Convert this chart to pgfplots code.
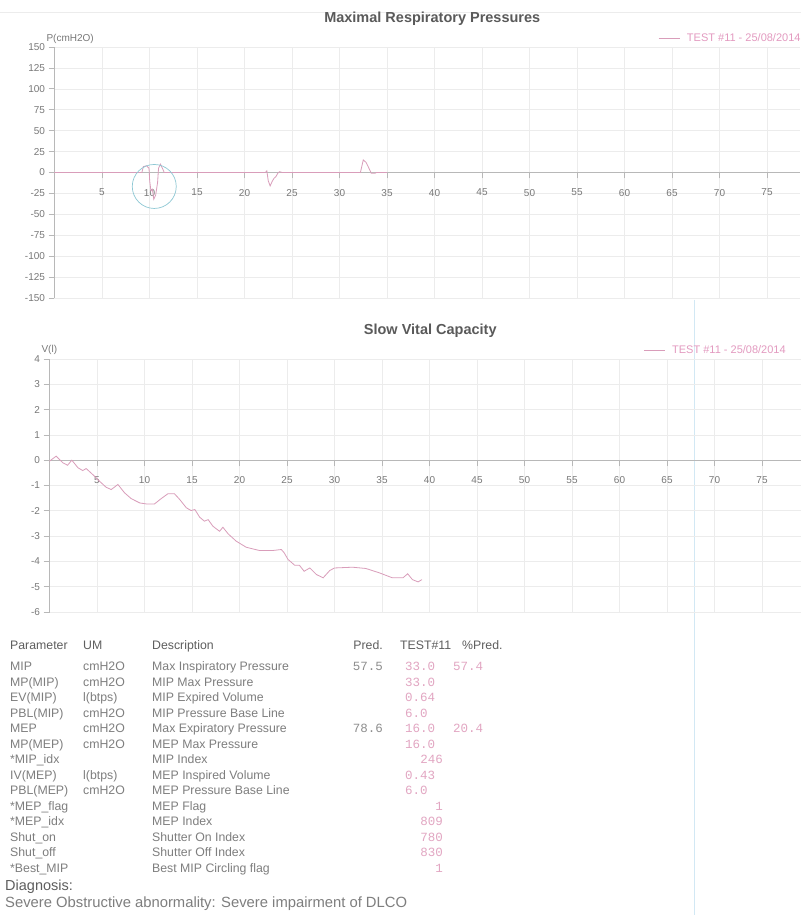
\documentclass[border=0pt]{standalone}
\usepackage{pgfplots}
\pgfplotsset{compat=1.18}
\usepackage{fontspec}
\setmainfont{Liberation Sans}
\newfontfamily\monofont{Liberation Mono}
\definecolor{curve}{HTML}{D99DBA}
\definecolor{legtxt}{HTML}{E39AC0}
\definecolor{gridc}{HTML}{ECECEC}
\definecolor{axc}{HTML}{B8B8B8}
\definecolor{tickc}{HTML}{787878}
\definecolor{titc}{HTML}{5A5A5A}
\definecolor{hdr}{HTML}{5E5E5E}
\definecolor{bodyc}{HTML}{7E7E7E}
\definecolor{numc}{HTML}{E2A6C2}
\definecolor{predc}{HTML}{8E8E8E}
\definecolor{circ}{HTML}{8EC8D4}
\definecolor{fold}{HTML}{D2E8F4}
\newcommand\tabf{\fontsize{12.3}{14}\selectfont}
\newcommand\numf{\monofont\fontsize{12.5}{14}\selectfont}
\pgfplotsset{
  chartbase/.style={
    scale only axis,
    axis x line=middle, axis y line=left,
    axis line style={-, draw=axc, line width=0.7pt},
    tick align=outside,
    major tick length=6pt,
    every tick/.style={draw=axc, line width=0.7pt},
    grid=major,
    major grid style={draw=gridc, line width=0.6pt},
    tick label style={font=\fontsize{10}{12}\selectfont, text=tickc},
    /pgf/number format/assume math mode=true,
    xtick={5,10,...,75},
    xticklabel style={yshift=-7pt},
    clip=false,
    title style={at={(axis description cs:0.5,1)}, anchor=base, yshift=18.5pt, xshift=5pt,
      font=\fontsize{14.5}{16}\selectfont\bfseries, text=titc},
    every axis y label/.style={at={(axis description cs:0,1)}, anchor=base west,
      font=\fontsize{10}{12}\selectfont, text=tickc},
    legend style={draw=none, fill=none, anchor=west, font=\fontsize{11}{13}\selectfont,
      text=legtxt, inner sep=0pt, nodes={inner sep=0pt},
      /tikz/every odd column/.append style={column sep=7pt}},
    legend image code/.code={\draw[#1, line width=0.8pt] (0pt,0pt) -- (21pt,0pt);},
  }
}
\begin{document}
\begin{tikzpicture}
\useasboundingbox (0pt,0pt) rectangle (801pt,915pt);
\fill[white] (0pt,0pt) rectangle (801pt,915pt);
\begin{scope}[x=1pt, y=-1pt, shift={(0pt,915pt)}]
\draw[gridc, line width=0.6pt] (0,12) -- (801,12);
\draw[fold, line width=1pt] (694,300) -- (694,915);
\end{scope}

\begin{axis}[chartbase, at={(54.5pt,617pt)}, anchor=south west, width=745.5pt, height=251pt,
  xmin=0, xmax=78.47, ymin=-150, ymax=150, ytick={-150,-125,...,150},
  title={Maximal Respiratory Pressures}, ylabel={P(cmH2O)}, ylabel style={xshift=-11.5pt, yshift=5.5pt},
  legend style={at={(axis description cs:0.8095,1)}, yshift=9pt}]
\addplot[curve, line width=0.8pt] coordinates {
(0,0) (9.2,0) (9.35,7) (9.7,8) (9.95,5) (10.02,-10) (10.15,-22) (10.3,-20) (10.45,-32) (10.65,-27)
(10.85,-12) (10.95,5) (11.15,10) (11.4,4) (11.55,0) (22.2,0) (22.35,2) (22.5,-10) (22.7,-16)
(22.9,-11) (23.1,-7) (23.3,-5) (23.5,-1) (23.7,1) (23.95,0) (32.2,0) (32.5,15) (32.8,12)
(33.1,5) (33.35,-1) (33.7,-1) (33.9,0) (35,0)};
\addlegendentry{TEST \#11 - 25/08/2014}
\addplot[forget plot, only marks, mark=o, mark size=22pt, mark options={draw=circ, line width=0.7pt}]
  coordinates {(10.5,-16.7)};
\end{axis}

\begin{axis}[chartbase, at={(49.5pt,303pt)}, anchor=south west, width=751.5pt, height=253pt,
  xmin=0, xmax=79.1, ymin=-6, ymax=4, ytick={-6,-5,...,4},
  title={Slow Vital Capacity}, ylabel={V(l)}, ylabel style={xshift=-11.5pt, yshift=6pt},
  legend style={at={(axis description cs:0.79,1)}, yshift=8.3pt}]
\addplot[curve, line width=0.8pt] coordinates {
(0,-0.04) (0.7,0.16) (1.4,-0.1) (1.9,-0.2) (2.35,0) (3.0,-0.3) (3.5,-0.41) (3.86,-0.33)
(4.56,-0.57) (5.26,-0.83) (5.96,-1.07) (6.5,-1.16) (7.2,-0.96) (7.9,-1.29) (8.6,-1.52)
(9.5,-1.69) (10.2,-1.73) (11.05,-1.73) (11.75,-1.52) (12.45,-1.33) (13.16,-1.33) (13.7,-1.55)
(14.4,-1.88) (14.9,-1.99) (15.3,-1.95) (15.8,-2.25) (16.3,-2.41) (16.7,-2.35) (17.2,-2.61)
(17.9,-2.81) (18.25,-2.65) (18.8,-2.91) (19.65,-3.2) (20.7,-3.44) (22.1,-3.57) (23.5,-3.57)
(24.4,-3.53) (24.7,-3.66) (25.1,-3.92) (25.8,-4.15) (26.3,-4.15) (26.8,-4.39) (27.4,-4.26)
(28.1,-4.52) (28.8,-4.65) (29.5,-4.36) (30.0,-4.26) (31.9,-4.23) (33.3,-4.28) (34.7,-4.45)
(36.1,-4.65) (37.2,-4.65) (37.7,-4.49) (38.2,-4.72) (38.8,-4.81) (39.2,-4.72)};
\addlegendentry{TEST \#11 - 25/08/2014}
\end{axis}

\begin{scope}[x=1pt, y=-1pt, shift={(0pt,915pt)},
  tb/.style={anchor=base west, inner sep=0pt, text=bodyc, font=\tabf},
  th/.style={anchor=base west, inner sep=0pt, text=hdr, font=\tabf},
  dl/.style={anchor=base west, inner sep=0pt, text=numc, font=\numf},
  ir/.style={anchor=base east, inner sep=0pt, text=numc, font=\numf},
  pr/.style={anchor=base east, inner sep=0pt, text=predc, font=\numf},
  pc/.style={anchor=base west, inner sep=0pt, text=numc, font=\numf}]
\newcommand\rowtxt[4]{\node[tb] at (10,#1) {#2};\node[tb] at (83,#1) {#3};\node[tb] at (152,#1) {#4};}
\node[th] at (10,649.3) {Parameter};
\node[th] at (83,649.3) {UM};
\node[th] at (152,649.3) {Description};
\node[th, anchor=base east] at (383,649.3) {Pred.};
\node[th] at (400,649.3) {TEST\#11};
\node[th] at (462,649.3) {\%Pred.};
\rowtxt{670.8}{MIP}{cmH2O}{Max Inspiratory Pressure}
\rowtxt{686.3}{MP(MIP)}{cmH2O}{MIP Max Pressure}
\rowtxt{701.8}{EV(MIP)}{l(btps)}{MIP Expired Volume}
\rowtxt{717.3}{PBL(MIP)}{cmH2O}{MIP Pressure Base Line}
\rowtxt{732.8}{MEP}{cmH2O}{Max Expiratory Pressure}
\rowtxt{748.3}{MP(MEP)}{cmH2O}{MEP Max Pressure}
\rowtxt{763.8}{*MIP\_idx}{}{MIP Index}
\rowtxt{779.3}{IV(MEP)}{l(btps)}{MEP Inspired Volume}
\rowtxt{794.8}{PBL(MEP)}{cmH2O}{MEP Pressure Base Line}
\rowtxt{810.3}{*MEP\_flag}{}{MEP Flag}
\rowtxt{825.8}{*MEP\_idx}{}{MEP Index}
\rowtxt{841.3}{Shut\_on}{}{Shutter On Index}
\rowtxt{856.8}{Shut\_off}{}{Shutter Off Index}
\rowtxt{872.3}{*Best\_MIP}{}{Best MIP Circling flag}
\node[pr] at (383,670.8) {57.5};
\node[pr] at (383,732.8) {78.6};
\node[dl] at (405,670.8) {33.0};
\node[dl] at (405,686.3) {33.0};
\node[dl] at (405,701.8) {0.64};
\node[dl] at (405,717.3) {6.0};
\node[dl] at (405,732.8) {16.0};
\node[dl] at (405,748.3) {16.0};
\node[ir] at (443,763.8) {246};
\node[dl] at (405,779.3) {0.43};
\node[dl] at (405,794.8) {6.0};
\node[ir] at (443,810.3) {1};
\node[ir] at (443,825.8) {809};
\node[ir] at (443,841.3) {780};
\node[ir] at (443,856.8) {830};
\node[ir] at (443,872.3) {1};
\node[pc] at (453,670.8) {57.4};
\node[pc] at (453,732.8) {20.4};
\node[th, font=\fontsize{14.5}{16}\selectfont] at (5,890.5) {Diagnosis:};
\node[tb, font=\fontsize{14.8}{16}\selectfont] at (5,907.8) {Severe Obstructive abnormality: Severe impairment of DLCO};
\end{scope}
\end{tikzpicture}
\end{document}
